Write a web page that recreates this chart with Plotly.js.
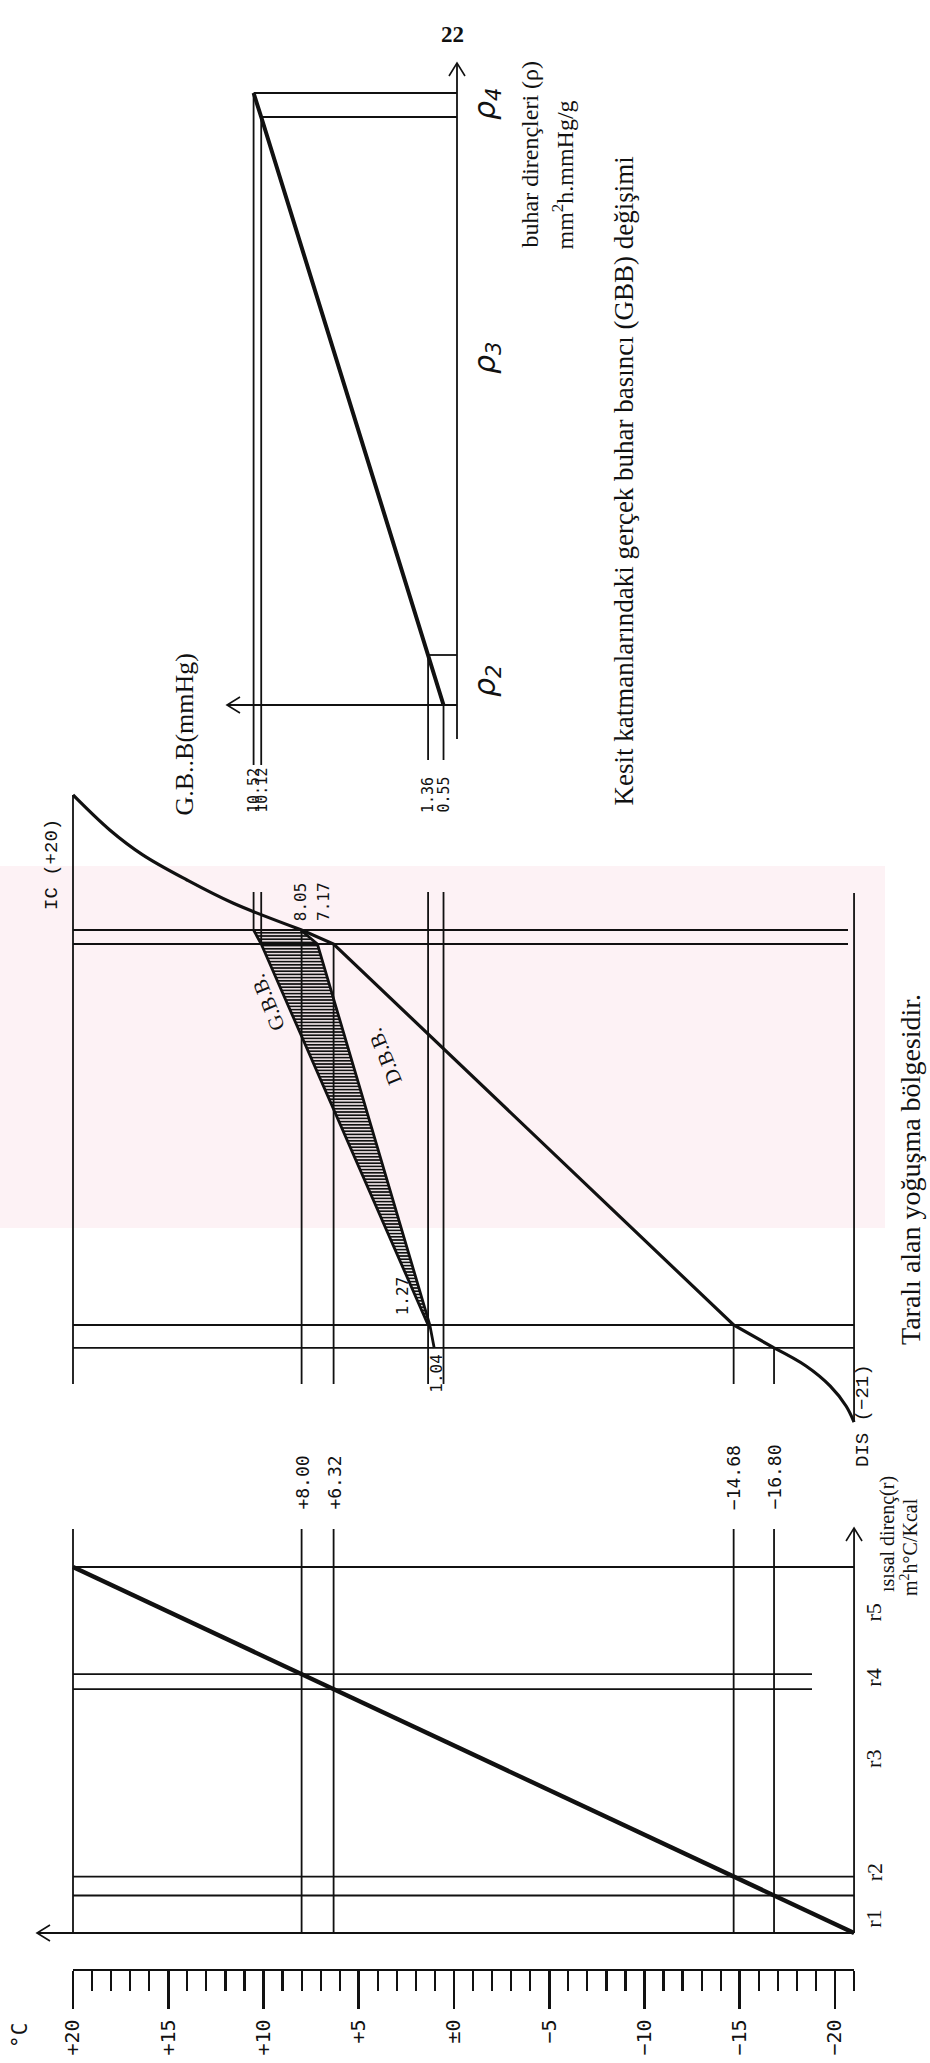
<!DOCTYPE html>
<html><head><meta charset="utf-8">
<script src="https://cdn.plot.ly/plotly-3.0.1.min.js"></script>
<style>html,body{margin:0;padding:0;background:#fff}#chart{width:930px;height:2063px}</style>
</head><body><div id="chart"></div>
<script>
// ================= DATA =================
// Panel 1 - temperature vs thermal resistance (ısısal direnç)
const layerTemps = [-21, -16.80, -14.68, 6.32, 8.00, 20];      // °C at layer boundaries
const layerR     = [0, 4.2, 6.32, 27.32, 29.0, 41];             // cumulative thermal resistance (drawing units)
const rNames     = ['r1', 'r2', 'r3', 'r4', 'r5'];
const rNamePos   = [1.6, 6.8, 19.5, 28.6, 35.9];
const markTemps  = [8.00, 6.32, -14.68, -16.80];
const markLabels = ['+8.00', '+6.32', '\u221214.68', '\u221216.80'];
const rulerVals  = [20, 15, 10, 5, 0, -5, -10, -15, -20];
const rulerText  = ['+20', '+15', '+10', '+5', '\u00b10', '\u22125', '\u221210', '\u221215', '\u221220'];

// Panel 2 - wall section: temperature profile, GBB and DBB
const wallDepth  = [0, 0.76, 21.41, 22.65];                      // layer boundaries (drawing units)
const wallTemps  = [8.00, 6.32, -14.68, -16.80];
const icTemps    = [20, 18.07, 16.34, 14.02, 11.61, 8.00];       // inner surface film
const icDepth    = [-7.32, -5.42, -4.07, -2.71, -1.46, 0];
const disTemps   = [-16.80, -18.48, -19.74, -20.58, -21];         // outer surface film
const disDepth   = [22.65, 23.63, 24.71, 25.80, 26.67];
const gbbValues  = [10.52, 10.12, 1.36, 0.55];                   // gerçek buhar basıncı, mmHg
const dbbValues  = [8.05, 7.17, 1.27, 1.04];                     // doymuş buhar basıncı, mmHg
const gbbText    = ['10.52', '10.12', '1.36', '0.55'];
const dbbText    = ['8.05', '7.17', '1.27', '1.04'];

// Panel 3 - GBB vs vapour resistance (buhar dirençleri)
const rhoBound   = [0, 5.0, 58.8, 61.2];
const rhoGbb     = [0.55, 1.36, 10.12, 10.52];
const rhoNames   = ['\u03c1<sub>2</sub>', '\u03c1<sub>3</sub>', '\u03c1<sub>4</sub>'];
const rhoNamePos = [2.4, 34.7, 60.1];

// ================= GEOMETRY =================
const W = 930, H = 2063;
const X20 = 73, PXU = 19.05;                 // page x of +20 and px per unit (°C or mmHg)
const P1_Y0 = 1933, P1_K = 8.927;            // panel 1: page y of r=0, px per r unit
const P2_Y0 = 930,  P2_K = 18.45;            // panel 2: page y of inner surface, px per unit
const P3_Y0 = 705,  P3_K = 10;               // panel 3: page y of rho=0, px per unit
const tx  = px => 20 - (px - X20) / PXU;
const r1y = py => (P1_Y0 - py) / P1_K;
const d2y = py => (py - P2_Y0) / P2_K;
const p3y = py => (P3_Y0 - py) / P3_K;

const BLK = '#111';
const traces = [];
function seg(xs, ys, yax, w, extra) {
  traces.push(Object.assign({type: 'scatter', mode: 'lines', x: xs, y: ys, xaxis: 'x', yaxis: yax,
    line: {color: BLK, width: w}, hoverinfo: 'skip', showlegend: false}, extra || {}));
}
function multiSeg(list, yax, w) {
  const xs = [], ys = [];
  list.forEach(s => { xs.push(s[0], s[2], null); ys.push(s[1], s[3], null); });
  seg(xs, ys, yax, w);
}
// open chevron arrow head
function chevron(xv, yv, dir, yax, ky) {
  const L = 13, S = 8;
  let xs, ys;
  if (dir === 'left') {
    xs = [xv - L / PXU, xv, xv - L / PXU];
    ys = [yv + S / ky, yv, yv - S / ky];
  } else {
    xs = [xv + S / PXU, xv, xv - S / PXU];
    ys = [yv - L / ky, yv, yv - L / ky];
  }
  seg(xs, ys, yax, 1.6);
}

// ================= PANEL 1 =================
const P1_TOP = r1y(1529);
const R4_END = tx(812);
const rTopArrow = r1y(1528);
const p1h = [];
layerR.forEach((r, i) => {
  const xEnd = (i === 3 || i === 4) ? R4_END : -21;
  p1h.push([20, r, xEnd, r]);
});
p1h.push([tx(37), 0, 20, 0]);
const p1v = [];
[20].concat(markTemps).forEach(t => p1v.push([t, 0, t, P1_TOP]));
p1v.push([-21, 0, -21, rTopArrow]);
multiSeg(p1h, 'y', 1.8);
multiSeg(p1v, 'y', 1.8);
seg(layerTemps, layerR, 'y', 4.4);
chevron(tx(37), 0, 'left', 'y', P1_K);
chevron(-21, rTopArrow, 'up', 'y', P1_K);

// ================= PANEL 2 =================
const P2_BOTTOM = d2y(1384);
const PRESS_TOP = d2y(892);
const TOPPAIR_END = tx(848);
const p2h = [
  [20, wallDepth[0], TOPPAIR_END, wallDepth[0]],
  [20, wallDepth[1], TOPPAIR_END, wallDepth[1]],
  [20, wallDepth[2], -21, wallDepth[2]],
  [20, wallDepth[3], -21, wallDepth[3]]
];
const p2v = [
  [20, icDepth[0], 20, P2_BOTTOM],
  [-21, d2y(893), -21, disDepth[disDepth.length - 1]]
];
wallTemps.forEach((t, i) => p2v.push([t, wallDepth[i], t, P2_BOTTOM]));
p2v.push([gbbValues[0], PRESS_TOP, gbbValues[0], wallDepth[0]]);
p2v.push([gbbValues[1], PRESS_TOP, gbbValues[1], wallDepth[1]]);
p2v.push([gbbValues[2], PRESS_TOP, gbbValues[2], P2_BOTTOM]);
p2v.push([gbbValues[3], PRESS_TOP, gbbValues[3], P2_BOTTOM]);
multiSeg(p2h, 'y2', 1.8);
multiSeg(p2v, 'y2', 1.8);
// hatched condensation zone
traces.push({type: 'scatter', mode: 'lines', xaxis: 'x', yaxis: 'y2',
  x: [gbbValues[0], gbbValues[1], gbbValues[2], dbbValues[2], dbbValues[1], dbbValues[0], gbbValues[0]],
  y: [wallDepth[0], wallDepth[1], wallDepth[2], wallDepth[2], wallDepth[1], wallDepth[0], wallDepth[0]],
  fill: 'toself', fillcolor: 'rgba(0,0,0,0)',
  fillpattern: {shape: '-', size: 3.2, solidity: 0.55, fgcolor: BLK, bgcolor: 'rgba(255,255,255,0)'},
  line: {color: BLK, width: 0.5}, hoverinfo: 'skip', showlegend: false});
seg(gbbValues.slice(0, 3), wallDepth.slice(0, 3), 'y2', 2.8);
seg(dbbValues, wallDepth, 'y2', 2.8);
// temperature profile through the wall
seg(icTemps, icDepth, 'y2', 3.2, {line: {color: BLK, width: 3.2, shape: 'spline'}});
seg(wallTemps, wallDepth, 'y2', 3.2);
seg(disTemps, disDepth, 'y2', 3.2, {line: {color: BLK, width: 3.2, shape: 'spline'}});

// ================= PANEL 3 =================
const RHO_AX = tx(457);
const rhoArrow = p3y(63);
const p3h = [
  [rhoGbb[3], rhoBound[3], RHO_AX, rhoBound[3]],
  [rhoGbb[2], rhoBound[2], RHO_AX, rhoBound[2]],
  [rhoGbb[1], rhoBound[1], RHO_AX, rhoBound[1]],
  [tx(227), 0, RHO_AX, 0]
];
const p3v = [
  [RHO_AX, p3y(739), RHO_AX, rhoArrow],
  [rhoGbb[3], rhoBound[3], rhoGbb[3], p3y(765)],
  [rhoGbb[2], rhoBound[2], rhoGbb[2], p3y(765)],
  [rhoGbb[1], rhoBound[1], rhoGbb[1], p3y(760)],
  [rhoGbb[0], rhoBound[0], rhoGbb[0], p3y(760)]
];
multiSeg(p3h, 'y3', 1.8);
multiSeg(p3v, 'y3', 1.8);
seg(rhoGbb, rhoBound, 'y3', 4.0);
chevron(tx(227), 0, 'left', 'y3', P3_K);
chevron(RHO_AX, rhoArrow, 'up', 'y3', P3_K);

// ruler subplot anchor trace
traces.push({type: 'scatter', mode: 'lines', x: [20, -21], y: [null, null], xaxis: 'x2', yaxis: 'y4',
  hoverinfo: 'skip', showlegend: false});

// ================= TEXT =================
const MONO = 'DejaVu Sans Mono, monospace';
const SERIF = 'Liberation Serif, Times New Roman, serif';
const CMONO = 'Liberation Mono, monospace';
const ann = [];
function A(o) {
  ann.push(Object.assign({xref: 'x', showarrow: false, textangle: -90, xanchor: 'center', yanchor: 'middle',
    font: {family: SERIF, size: 20, color: BLK}}, o));
}
// panel 1
markTemps.forEach((t, i) => A({x: t, y: r1y(1512), yref: 'y', yanchor: 'bottom', text: markLabels[i],
  font: {family: MONO, size: 18, color: BLK}}));
rNames.forEach((n, i) => A({x: tx(874), y: rNamePos[i], yref: 'y', text: n, font: {family: SERIF, size: 22, color: BLK}}));
A({x: tx(887), y: r1y(1594), yref: 'y', yanchor: 'bottom', text: '\u0131s\u0131sal diren\u00e7(r)', font: {family: SERIF, size: 20, color: BLK}});
A({x: tx(909), y: r1y(1598), yref: 'y', yanchor: 'bottom', text: 'm<sup>2</sup>h\u00b0C/Kcal', font: {family: SERIF, size: 20, color: BLK}});
A({x: tx(20), y: r1y(2036), yref: 'y', text: '\u00b0C', font: {family: MONO, size: 21, color: BLK}});
// panel 2
A({x: tx(52), y: d2y(865), yref: 'y2', text: 'IC (+20)', font: {family: CMONO, size: 19, color: BLK}});
A({x: tx(863), y: d2y(1416), yref: 'y2', text: 'DIS (\u221221)', font: {family: CMONO, size: 19, color: BLK}});
A({x: dbbValues[0], y: d2y(923), yref: 'y2', yanchor: 'bottom', text: dbbText[0], font: {family: MONO, size: 16, color: BLK}});
A({x: dbbValues[1], xshift: 6, y: d2y(923), yref: 'y2', yanchor: 'bottom', text: dbbText[1], font: {family: MONO, size: 16, color: BLK}});
A({x: dbbValues[2], xshift: -27, y: d2y(1317), yref: 'y2', yanchor: 'bottom', text: dbbText[2], font: {family: MONO, size: 16, color: BLK}});
A({x: dbbValues[3], xshift: 2, y: d2y(1352), yref: 'y2', yanchor: 'top', text: dbbText[3], font: {family: MONO, size: 16, color: BLK}});
A({x: tx(268), y: d2y(1003), yref: 'y2', textangle: -112, text: 'G.B.B.', font: {family: SERIF, size: 21, color: BLK}});
A({x: tx(385), y: d2y(1057), yref: 'y2', textangle: -112, text: 'D.B.B.', font: {family: SERIF, size: 21, color: BLK}});
A({x: tx(910), y: d2y(1170), yref: 'y2', text: 'Taral\u0131 alan yo\u011fu\u015fma b\u00f6lgesidir.', font: {family: SERIF, size: 28, color: BLK}});
// panel 3
gbbValues.forEach((v, i) => A({x: v, y: p3y(815), yref: 'y3', yanchor: 'bottom', text: gbbText[i],
  font: {family: MONO, size: 15, color: BLK}}));
A({x: tx(184), y: p3y(818), yref: 'y3', yanchor: 'bottom', text: 'G.B..B(mmHg)', font: {family: SERIF, size: 26, color: BLK}});
rhoNames.forEach((n, i) => A({x: tx(486), y: rhoNamePos[i], yref: 'y3', text: '<i>' + n + '</i>', font: {family: 'DejaVu Sans, sans-serif', size: 30, color: BLK}}));
A({x: tx(529), y: p3y(250), yref: 'y3', yanchor: 'bottom', text: 'buhar diren\u00e7leri (\u03c1)', font: {family: SERIF, size: 24, color: BLK}});
A({x: tx(562), y: p3y(252), yref: 'y3', yanchor: 'bottom', text: 'mm<sup>2</sup>h.mmHg/g', font: {family: SERIF, size: 24, color: BLK}});
A({x: tx(623), y: p3y(155), yref: 'y3', yanchor: 'top', text: 'Kesit katmanlar\u0131ndaki ger\u00e7ek buhar bas\u0131nc\u0131 (GBB) de\u011fi\u015fimi', font: {family: SERIF, size: 27, color: BLK}});
ann.push({xref: 'paper', yref: 'paper', x: 452 / W, y: 1 - 20 / H, showarrow: false, text: '<b>22</b>',
  font: {family: SERIF, size: 23, color: BLK}});

// ================= LAYOUT =================
const minorVals = [];
for (let t = 19; t >= -21; t--) if (t % 5 !== 0) minorVals.push(t);
const hidden = {visible: false, fixedrange: true};
const layout = {
  width: W, height: H, margin: {l: 0, r: 0, t: 0, b: 0},
  paper_bgcolor: '#fff', plot_bgcolor: 'rgba(0,0,0,0)', showlegend: false,
  xaxis: Object.assign({domain: [0, 1], range: [20 + X20 / PXU, 20 - (W - X20) / PXU]}, hidden),
  yaxis: Object.assign({domain: [0, 1], range: [-(H - P1_Y0) / P1_K, P1_Y0 / P1_K]}, hidden),
  yaxis2: Object.assign({overlaying: 'y', anchor: 'x', range: [(H - P2_Y0) / P2_K, -P2_Y0 / P2_K]}, hidden),
  yaxis3: Object.assign({overlaying: 'y', anchor: 'x', range: [-(H - P3_Y0) / P3_K, P3_Y0 / P3_K]}, hidden),
  yaxis4: Object.assign({domain: [0, 1], anchor: 'x2', range: [0, 1]}, hidden),
  xaxis2: {domain: [X20 / W, (X20 + 41 * PXU) / W], range: [20, -21], anchor: 'free', position: 1 - 1970 / H,
    showline: true, linecolor: BLK, linewidth: 2.4, showgrid: false, zeroline: false, fixedrange: true,
    ticks: 'outside', ticklen: 38, tickwidth: 2.6, tickcolor: BLK,
    tickmode: 'array', tickvals: rulerVals, ticktext: rulerText, tickangle: -90,
    tickfont: {family: MONO, size: 20, color: BLK}, ticklabelstandoff: 2,
    minor: {tickmode: 'array', tickvals: minorVals, ticks: 'outside', ticklen: 20, tickwidth: 2.2, tickcolor: BLK}},
  // faint archive watermark band behind the drawing
  shapes: [{type: 'rect', xref: 'paper', yref: 'paper', layer: 'below',
    x0: 0, x1: 885 / W, y0: 1 - 1228 / H, y1: 1 - 866 / H,
    fillcolor: 'rgba(248,196,208,0.22)', line: {width: 0}}],
  annotations: ann
};
Plotly.newPlot('chart', traces, layout, {staticPlot: true, displayModeBar: false});
</script></body></html>
